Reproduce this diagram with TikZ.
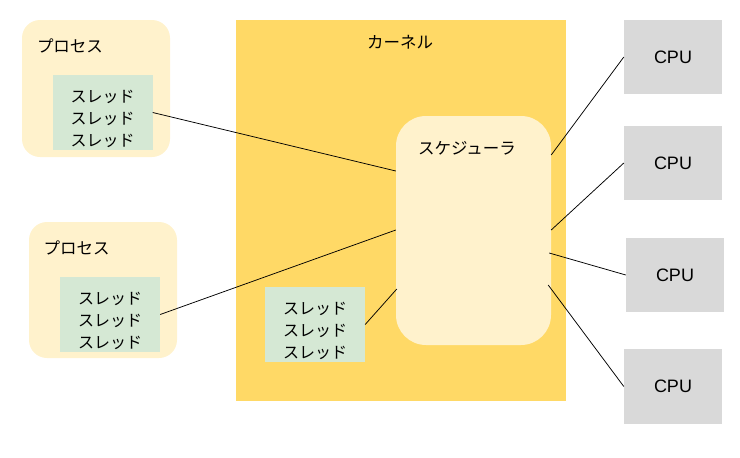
\documentclass[tikz,border=0pt]{standalone}
\usepackage{fontspec}
\setmainfont{Liberation Sans}
\newfontfamily\jp{Noto Sans CJK JP}
\definecolor{procfill}{HTML}{FFF2CC}
\definecolor{thrfill}{HTML}{D5E8D4}
\definecolor{kernfill}{HTML}{FFD966}
\definecolor{cpufill}{HTML}{D9D9D9}
\begin{document}
\begin{tikzpicture}
		[x=1pt,y=-1pt,
		proc/.style={fill=procfill,rounded corners=18pt,
			minimum width=148pt,minimum height=137pt,inner sep=0pt},
		thr/.style={fill=thrfill,minimum width=100pt,minimum height=75pt,
			inner sep=0pt,align=center,text height=67pt,text depth=0pt,
			font=\jp\fontsize{16}{21.75}\selectfont},
		cpu/.style={fill=cpufill,minimum width=98pt,minimum height=74pt,
			inner sep=0pt,font=\fontsize{18}{20}\selectfont},
		lbl/.style={inner sep=0pt,font=\jp\fontsize{16.5}{20}\selectfont},
		link/.style={line width=0.75pt}]
		\useasboundingbox (0,0) rectangle (740,458);
		\node[fill=kernfill,minimum width=330pt,minimum height=381pt] (kern) at (401,210.5) {};
		\node[lbl] (kernlbl) at (400,42) {カーネル};
		\node[fill=procfill,rounded corners=30pt,minimum width=155pt,
			minimum height=229pt,inner sep=0pt] (sched) at (473.5,230.5) {};
		\node[lbl] (schedlbl) at (467,148) {スケジューラ};
		\node[proc] (proc1) at (96,88.5) {};
		\node[lbl] (proc1lbl) at (70,46) {プロセス};
		\node[thr] (thr1) at (102.5,112.5) {スレッド\\スレッド\\スレッド};
		\node[proc,minimum height=136pt] (proc2) at (103,290) {};
		\node[lbl] (proc2lbl) at (76.5,248) {プロセス};
		\node[thr] (thr2) at (110,314.5) {スレッド\\スレッド\\スレッド};
		\node[thr] (thr3) at (315,324.5) {スレッド\\スレッド\\スレッド};
		\node[cpu] (cpu1) at (673,57) {CPU};
		\node[cpu] (cpu2) at (673,163) {CPU};
		\node[cpu] (cpu3) at (675,275) {CPU};
		\node[cpu,minimum height=75pt] (cpu4) at (673,386.5) {CPU};
		\draw[link] (thr1.east) -- ([yshift=59.5pt]sched.west);
		\draw[link] (thr2.east) -- ([yshift=0.5pt]sched.west);
		\draw[link] (thr3.east) -- ([xshift=1pt,yshift=-58.5pt]sched.west);
		\draw[link] ([yshift=75.5pt]sched.east) -- (cpu1.west);
		\draw[link] ([yshift=0.5pt]sched.east) -- (cpu2.west);
		\draw[link] ([xshift=-2pt,yshift=-22.5pt]sched.east) -- (cpu3.west);
		\draw[link] ([xshift=-3pt,yshift=-54.5pt]sched.east) -- (cpu4.west);
	\end{tikzpicture}
\end{document}
